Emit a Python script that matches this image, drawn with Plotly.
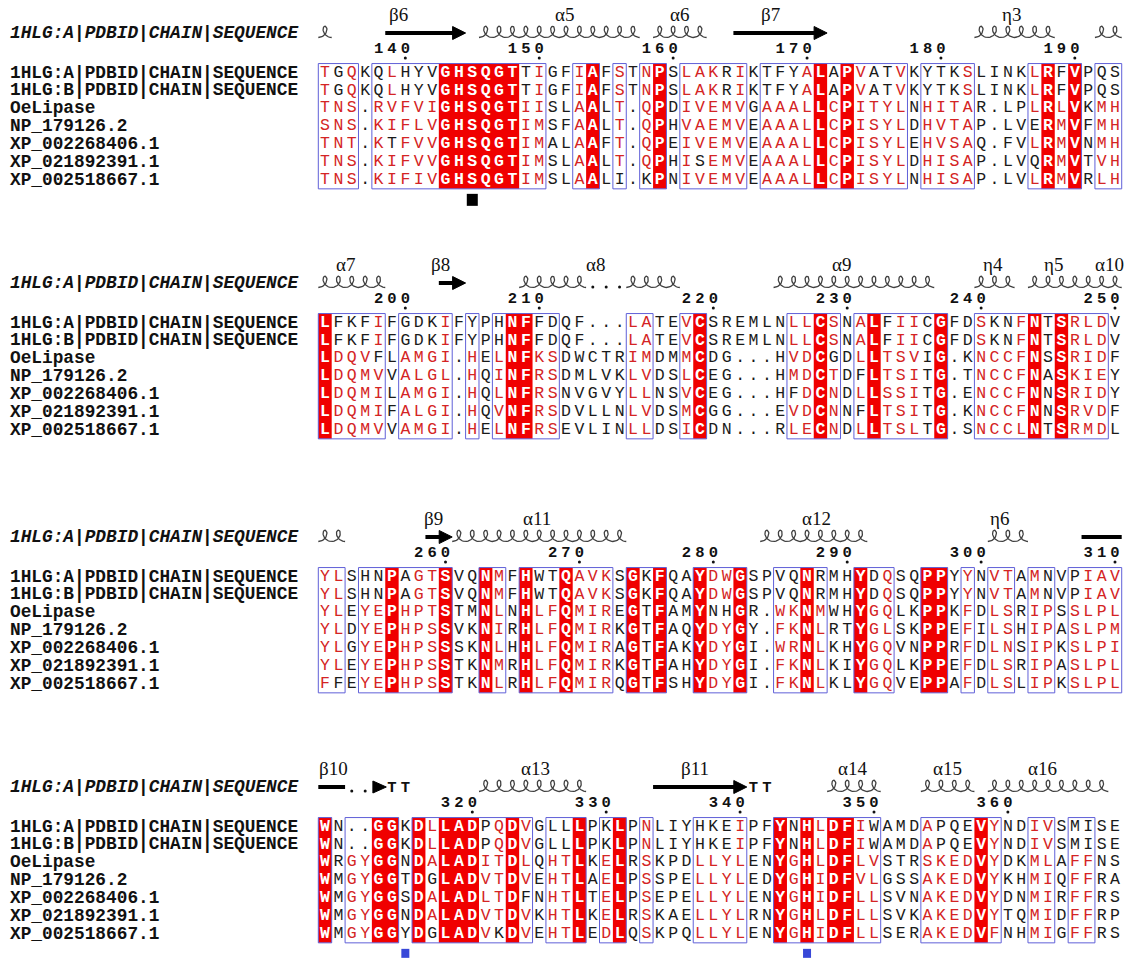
import math
import plotly.graph_objects as go

# ------------------------------------------------------------------ data
seq_names = ["1HLG:A|PDBID|CHAIN|SEQUENCE", "1HLG:B|PDBID|CHAIN|SEQUENCE", "OeLipase",
             "NP_179126.2", "XP_002268406.1", "XP_021892391.1", "XP_002518667.1"]
ss_title = "1HLG:A|PDBID|CHAIN|SEQUENCE"
first_residue = 134

block1_seqs = [
    "TGQKQLHYVGHSQGTTIGFIAFSTNPSLAKRIKTFYALAPVATVKYTKSLINKLRFVPQS",
    "TGQKQLHYVGHSQGTTIGFIAFSTNPSLAKRIKTFYALAPVATVKYTKSLINKLRFVPQS",
    "TNS.RVFVIGHSQGTIISLAALT.QPDIVEMVGAAALLCPITYLNHITAR.LPLRLVKMH",
    "SNS.KIFLVGHSQGTIMSFAALT.QPHVAEMVEAAALLCPISYLDHVTAP.LVERMVFMH",
    "TNT.KTFVVGHSQGTIMALAAFT.QPEIVEMVEAAALLCPISYLEHVSAQ.FVLRMVNMH",
    "TNS.KIFVVGHSQGTIMSLAALT.QPHISEMVEAAALLCPISYLDHISAP.LVQRMVTVH",
    "TNS.KIFIVGHSQGTIMSLAALI.KPNIVEMVEAAALLCPISYLNHISAP.LVLRMVRLH",
]
block2_seqs = [
    "LFKFIFGDKIFYPHNFFDQF...LATEVCSREMLNLLCSNALFIICGFDSKNFNTSRLDV",
    "LFKFIFGDKIFYPHNFFDQF...LATEVCSREMLNLLCSNALFIICGFDSKNFNTSRLDV",
    "LDQVFLAMGI.HELNFKSDWCTRIMDMMCDG...HVDCGDLLTSVIG.KNCCFNSSRIDF",
    "LDQMVVALGL.HQINFRSDMLVKLVDSLCEG...HMDCTDFLTSITG.TNCCFNASKIEY",
    "LDQMILAMGI.HQLNFRSNVGVYLLNSVCEG...HFDCNDLLSSITG.ENCCFNNSRIDY",
    "LDQMIFALGI.HQVNFRSDVLLNLVDSMCGG...EVDCNNFLTSITG.KNCCFNNSRVDF",
    "LDQMVVAMGI.HELNFRSEVLINLLDSICDN...RLECNDLLTSLTG.SNCCLNTSRMDL",
]
block3_seqs = [
    "YLSHNPAGTSVQNMFHWTQAVKSGKFQAYDWGSPVQNRMHYDQSQPPYYNVTAMNVPIAV",
    "YLSHNPAGTSVQNMFHWTQAVKSGKFQAYDWGSPVQNRMHYDQSQPPYYNVTAMNVPIAV",
    "YLEYEPHPTSTMNLNHLFQMIREGTFAMYNHGR.WKNMWHYGQLKPPKFDLSRIPSSLPL",
    "YLDYEPHPSSVKNIRHLFQMIRKGTFAQYDYGY.FKNLRTYGLSKPPEFILSHIPASLPM",
    "YLGYEPHPSSSKNLHHLFQMIRAGTFAKYDYGI.WRNLKHYGQVNPPRFDLNSIPKSLPI",
    "YLEYEPHPSSTKNMRHLFQMIRKGTFAHYDYGI.FKNLKIYGQLKPPEFDLSRIPASLPL",
    "FFEYEPHPSSTKNLRHLFQMIRQGTFSHYDYGI.FKNLKLYGQVEPPAFDLSLIPKSLPL",
]
block4_seqs = [
    "WN..GGKDLLADPQDVGLLLPKLPNLIYHKEIPFYNHLDFIWAMDAPQEVYNDIVSMISE",
    "WN..GGKDLLADPQDVGLLLPKLPNLIYHKEIPFYNHLDFIWAMDAPQEVYNDIVSMISE",
    "WRGYGGNDALADITDLQHTLKELRSKPDLLYLENYGHLDFLVSTRSKEDVYDKMLAFFNS",
    "WMGYGGTDGLADVTDVEHTLAELPSSPELLYLEDYGHIDFVLGSSAKEDVYKHMIQFFRA",
    "WMGYGGSDALADLTDFNHTLTELPSEPELLYLENYGHIDFLLSVNAKEDVYDNMIRFFRS",
    "WMGYGGNDALADVTDVKHTLKELRSKAELLYLRNYGHLDFLLSVKAKEDVYTQMIDFFRP",
    "WMGYGGYDGLADVKDVEHTLEDLQSKPQLLYLENYGHIDFLLSERAKEDVFNHMIGFFRS",
]

# residue class: w = strictly conserved (white on red), r = similar (red), k = other
block1_masks = [
    "rkrkkrkkkw" "wwwwwkrkkr" "wkrkrwkrrr" "krkkkkrwkw" "rkkrkkkkrk" "kkkrwkwkkk",
    "rkrkkrkkkw" "wwwwwkrkkr" "wkrkrwkrrr" "krkkkkrwkw" "rkkrkkkkrk" "kkkrwkwkkk",
    "rrrkrrrrrw" "wwwwwrrkkr" "wkrkrwkrrr" "rrkrrrrwrw" "rrrrkrrrrk" "kkkrwrwkrr",
    "rrrkrrrrrw" "wwwwwrrkkr" "wkrkrwkrrr" "rrkrrrrwrw" "rrrrkrrrrk" "kkkkwrwkrr",
    "rrrkrkrrrw" "wwwwwrrkkr" "wkrkrwkrrr" "rrkrrrrwrw" "rrrrkrrrrk" "kkkrwrwkrr",
    "rrrkrrrrrw" "wwwwwrrkkr" "wkrkrwkrkr" "rrkrrrrwrw" "rrrrkrrrrk" "kkkkwrwkrr",
    "rrrkrrrrrw" "wwwwwrrkkr" "wkkkkwkrrr" "rrkrrrrwrw" "rrrrkrrrrk" "kkkrwrwkrr",
]
block2_masks = [
    "wkkkrkkkkr" "kkkkwwkkkk" "kkkrrkkrwk" "kkkkkrrwrk" "rwkrrkwkkr" "kkrwkwrrrk",
    "wkkkrkkkkr" "kkkkwwkkkk" "kkkrrkkrwk" "kkkkkrrwrk" "rwkrrkwkkr" "kkrwkwrrrk",
    "wrrrkkrrrr" "krkrwwrrkk" "kkkrrkkrwk" "kkkkkrrwkk" "rwrrrkwkkr" "rrrwkwrrrk",
    "wrrrrkrrrr" "krkrwwrrkk" "kkkrrkkrwk" "kkkkkrrwrk" "kwrrrkwkkr" "rrrwkwrrrk",
    "wrrrrkrrrr" "krkrwwrrkk" "kkkrrkkrwk" "kkkkkkrwrk" "rwrrrkwkkr" "rrrwkwrrrk",
    "wrrrrkrrrr" "krkrwwrrkk" "kkkrrkkrwk" "kkkkkrrwrk" "kwrrrkwkkr" "rrrwkwrrrk",
    "wrrrrkrrrr" "krkrwwrrkk" "kkkrrkkrwk" "kkkkkrrwrk" "rwrrrkwkkr" "rrrwkwrrrk",
]
block3_masks = [
    "rrkkkwkrrw" "kkwrkwkkwr" "rrkwkwkkwr" "rwkkkkwkkk" "wkrkkwwkrk" "rrkrkkkrrr",
    "rrkkkwkrrw" "kkwrkwkkwr" "rrkwkwkkwr" "rwkkkkwkkk" "wkrkkwwkrk" "rrkrkkkrrr",
    "rrkrrwrrrw" "kkwrkwrrwr" "rrkwkwkkwk" "kwkkrrwrkk" "wrrkkwwkrk" "rrkrrkrrrr",
    "rrkrrwrrrw" "kkwrkwrrwr" "rrkwkwkkwr" "rwkkrrwrkk" "wrrkkwwkrk" "rrkrrkrrrr",
    "rrkrrwrrrw" "kkwrkwrrwr" "rrkwkwkkwr" "rwkkrrwrkk" "wrrkkwwkrk" "rrkrrkrrrr",
    "rrkrrwrrrw" "kkwrkwrrwr" "rrkwkwkkwr" "rwkkrrwrkk" "wrrkkwwkrk" "rrkrrkrrrr",
    "rkkrrwrrrw" "kkwrkwrrwr" "rrkwkwkkwr" "rwkkrrwrkk" "wrrkkwwkrk" "rrkrrkrrrr",
]
block4_masks = [
    "wkkkwwkwrw" "wwkrwrkkkw" "kkwkrkkkkk" "krkkwkwrww" "rkkkkrkkkw" "rkkrrkkkkk",
    "wkkkwwkwrw" "wwkrwrkkkw" "kkwkrkkkkk" "krkkwkwrww" "rkkkkrkkkw" "rkkrrkkkkk",
    "wkrrwwkwrw" "wwrrwrkrrw" "krwkrkkkrr" "rrkkwrwrww" "rrkkkrrrrw" "rkkrrkrrkk",
    "wkrrwwkwkw" "wwrrwrkrrw" "krwkrkkkrr" "rrkkwrwrww" "rrkkkrrrrw" "rkkrrkrrkk",
    "wkrrwwkwrw" "wwrrwkkrrw" "krwkrkkkrr" "rrkkwrwrww" "rrkkkrrrrw" "rkkrrkrrkk",
    "wkrrwwkwrw" "wwrrwrkrrw" "krwkrkkkrr" "rrkkwrwrww" "rrkkkrrrrw" "rkkrrkrrkk",
    "wkrrwwkwkw" "wwrkwrkrrw" "krwkrkkkrr" "rrkkwrwrww" "rrkkkrrrrw" "rkkrrkrrkk",
]

# framed (similarity) column ranges per block
block1_boxes = [(0, 2), (4, 16), (19, 20), (22, 22), (24, 25), (27, 31), (33, 43), (45, 48), (53, 56), (58, 59)]
block2_boxes = [(0, 4), (6, 9), (11, 11), (13, 17), (23, 24), (27, 28), (35, 38), (40, 46), (49, 58)]
block3_boxes = [(0, 1), (3, 9), (12, 13), (15, 21), (23, 25), (28, 31), (34, 37), (40, 42), (45, 46),
                (48, 48), (50, 51), (53, 54), (56, 59)]
block4_boxes = [(0, 0), (2, 5), (7, 15), (17, 19), (21, 22), (24, 24), (28, 31), (34, 41), (45, 50),
                (53, 54), (56, 57)]

# secondary structure elements: (kind, first column, last column)
block1_ss = [("helix", 0, 0), ("strand", 5, 10), ("helix", 12, 23), ("helix", 25, 28),
             ("strand", 31, 37), ("helix", 49, 54), ("helix", 58, 59)]
block2_ss = [("helix", 0, 4), ("strand", 9, 10), ("helix", 15, 19), ("dots", 20, 22), ("helix", 23, 26),
             ("helix", 34, 45), ("helix", 49, 51), ("helix", 53, 59)]
block3_ss = [("helix", 0, 1), ("strand", 8, 9), ("helix", 10, 22), ("helix", 33, 40), ("helix", 50, 52),
             ("bar", 57, 59)]
block4_ss = [("bar", 0, 1), ("dots", 2, 3), ("head", 4, 4), ("turn", 5, 6), ("helix", 12, 19),
             ("strand", 25, 31), ("turn", 32, 33), ("helix", 38, 41), ("helix", 45, 48), ("helix", 50, 58)]

# element names and the column they sit above
block1_labels = [("β6", 5.5), ("α5", 17.9), ("α6", 26.5), ("β7", 33.3), ("η3", 51.3)]
block2_labels = [("α7", 1.5), ("β8", 8.6), ("α8", 20.2), ("α9", 38.6), ("η4", 49.9), ("η5", 54.4), ("α10", 58.6)]
block3_labels = [("β9", 8.1), ("α11", 15.8), ("α12", 36.7), ("η6", 50.4)]
block4_labels = [("β10", 0.6), ("α13", 15.7), ("β11", 27.6), ("α14", 39.4), ("α15", 46.5), ("α16", 53.6)]

# small marks under columns
block1_marks = [(11, "black")]
block2_marks = []
block3_marks = []
block4_marks = [(6, "blue"), (36, "blue")]

blocks = [
    (block1_seqs, block1_masks, block1_boxes, block1_ss, block1_labels, block1_marks),
    (block2_seqs, block2_masks, block2_boxes, block2_ss, block2_labels, block2_marks),
    (block3_seqs, block3_masks, block3_boxes, block3_ss, block3_labels, block3_marks),
    (block4_seqs, block4_masks, block4_boxes, block4_ss, block4_labels, block4_marks),
]

# ------------------------------------------------------------------ layout
W, H = 1131, 967
X_NAME = 8
X0 = 325.0
CW = 13.39
ROW = 17.9
BLOCK_Y = [33, 283, 537, 787]

RED = "#f00000"
RED_TXT = "#d42424"
BLUE = "#6060d8"
MONO = "Liberation Mono"
SERIF = "Liberation Serif"


def cx(c):
    return X0 + c * CW


fig = go.Figure()
shapes = []
annotations = []

reg_x, reg_y, reg_t, reg_c = [], [], [], []
bold_x, bold_y, bold_t = [], [], []
num_x, num_y, num_t = [], [], []
dot_x, dot_y = [], []
turn_x, turn_y = [], []

counter = first_residue
for b, (seqs, masks, boxes, ss, labels, marks) in enumerate(blocks):
    by = BLOCK_Y[b]
    ys = [by + 39.5 + r * ROW for r in range(len(seqs))]
    top = ys[0] - ROW / 2
    bot = ys[-1] + ROW / 2

    # strictly conserved columns -> red background runs
    ident = [c for c, m in enumerate(masks[0]) if m == "w"]
    runs = []
    for c in ident:
        if runs and runs[-1][1] == c - 1:
            runs[-1][1] = c
        else:
            runs.append([c, c])
    for c0, c1 in runs:
        shapes.append(dict(type="rect", x0=cx(c0 - 0.5), x1=cx(c1 + 0.5), y0=top, y1=bot,
                           fillcolor=RED, line=dict(width=0), layer="below"))
    for c0, c1 in boxes:
        shapes.append(dict(type="rect", x0=cx(c0 - 0.5), x1=cx(c1 + 0.5), y0=top, y1=bot,
                           fillcolor="rgba(0,0,0,0)", line=dict(color=BLUE, width=1), layer="below"))

    # residues
    for r, (s, m) in enumerate(zip(seqs, masks)):
        for c, (ch, mm) in enumerate(zip(s, m)):
            if mm == "w":
                bold_x.append(cx(c)); bold_y.append(ys[r]); bold_t.append(ch)
            else:
                reg_x.append(cx(c)); reg_y.append(ys[r]); reg_t.append(ch)
                reg_c.append(RED_TXT if mm == "r" else "#1a1a1a")

    # sequence names and SS title
    for r, nm in enumerate(seq_names):
        annotations.append(dict(x=X_NAME, y=ys[r], text="<b>%s</b>" % nm, showarrow=False,
                                xanchor="left", yanchor="middle",
                                font=dict(family=MONO, size=17.8, color="#111111")))
    annotations.append(dict(x=X_NAME, y=by, text="<b><i>%s</i></b>" % ss_title, showarrow=False,
                            xanchor="left", yanchor="middle",
                            font=dict(family=MONO, size=17.8, color="#111111")))

    # residue numbering (from the first sequence)
    for c, ch in enumerate(seqs[0]):
        if ch == ".":
            continue
        if counter % 10 == 0:
            digits = str(counter)
            for k, d in enumerate(digits):
                num_x.append(cx(c - (len(digits) - 1 - k))); num_y.append(by + 16); num_t.append(d)
            dot_x.append(cx(c)); dot_y.append(by + 25)
        counter += 1

    # secondary structure
    for kind, c0, c1 in ss:
        xl, xr = cx(c0 - 0.5), cx(c1 + 0.5)
        if kind == "helix":
            n = c1 - c0 + 1
            hx, hy = [], []
            steps = 36
            for j in range(n * steps + 1):
                t = j / steps
                th = 2 * math.pi * t
                hx.append(xl + t * CW + 4.8 * math.sin(th))
                hy.append(by + 4.5 - 5.6 * (1 - math.cos(th)))
            fig.add_trace(go.Scatter(x=hx, y=hy, mode="lines", line=dict(color="#404040", width=1.3),
                                     hoverinfo="skip"))
        elif kind == "strand":
            shapes.append(dict(type="line", x0=xl, x1=xr - 11, y0=by, y1=by,
                               line=dict(color="black", width=4)))
            shapes.append(dict(type="path",
                               path="M %.1f %.1f L %.1f %.1f L %.1f %.1f Z" % (xr - 13, by - 6.5, xr, by, xr - 13, by + 6.5),
                               fillcolor="black", line=dict(color="black", width=1)))
        elif kind == "bar":
            shapes.append(dict(type="line", x0=xl, x1=xr, y0=by, y1=by, line=dict(color="black", width=4)))
        elif kind == "head":
            shapes.append(dict(type="path",
                               path="M %.1f %.1f L %.1f %.1f L %.1f %.1f Z" % (xl + 1, by - 6, xr + 1, by, xl + 1, by + 6),
                               fillcolor="black", line=dict(color="black", width=1)))
        elif kind == "dots":
            for c in range(c0, c1 + 1):
                dot_x.append(cx(c)); dot_y.append(by + 4)
        elif kind == "turn":
            for c in range(c0, c1 + 1):
                turn_x.append(cx(c)); turn_y.append(by + 1)

    for txt, col in labels:
        annotations.append(dict(x=cx(col), y=by - 19, text=txt, showarrow=False, xanchor="center",
                                yanchor="middle", font=dict(family=SERIF, size=19, color="#111111")))

    for col, colour in marks:
        if colour == "black":
            shapes.append(dict(type="rect", x0=cx(col) - 5.5, x1=cx(col) + 5.5, y0=bot + 5, y1=bot + 17,
                               fillcolor="black", line=dict(width=0)))
        else:
            shapes.append(dict(type="rect", x0=cx(col) - 4, x1=cx(col) + 4, y0=bot + 6, y1=bot + 15,
                               fillcolor="#3848d8", line=dict(width=0)))

fig.add_trace(go.Scatter(x=reg_x, y=reg_y, text=reg_t, mode="text", hoverinfo="skip",
                         textposition="middle center",
                         textfont=dict(family=MONO, size=16.5, color=reg_c)))
fig.add_trace(go.Scatter(x=bold_x, y=bold_y, text=bold_t, mode="text", hoverinfo="skip",
                         textposition="middle center",
                         textfont=dict(family=MONO, size=16.5, color="white", weight="bold")))
fig.add_trace(go.Scatter(x=num_x, y=num_y, text=num_t, mode="text", hoverinfo="skip",
                         textposition="middle center",
                         textfont=dict(family=MONO, size=15.5, color="#111111", weight="bold")))
fig.add_trace(go.Scatter(x=turn_x, y=turn_y, text=["T"] * len(turn_x), mode="text", hoverinfo="skip",
                         textposition="middle center",
                         textfont=dict(family=MONO, size=15.5, color="#111111", weight="bold")))
fig.add_trace(go.Scatter(x=dot_x, y=dot_y, mode="markers", hoverinfo="skip",
                         marker=dict(size=3, color="#111111")))

fig.update_layout(
    width=W, height=H, margin=dict(l=0, r=0, t=0, b=0),
    paper_bgcolor="white", plot_bgcolor="white", showlegend=False,
    xaxis=dict(range=[0, W], visible=False, fixedrange=True),
    yaxis=dict(range=[H, 0], visible=False, fixedrange=True),
    shapes=shapes, annotations=annotations,
)
fig.write_html("out.html")
